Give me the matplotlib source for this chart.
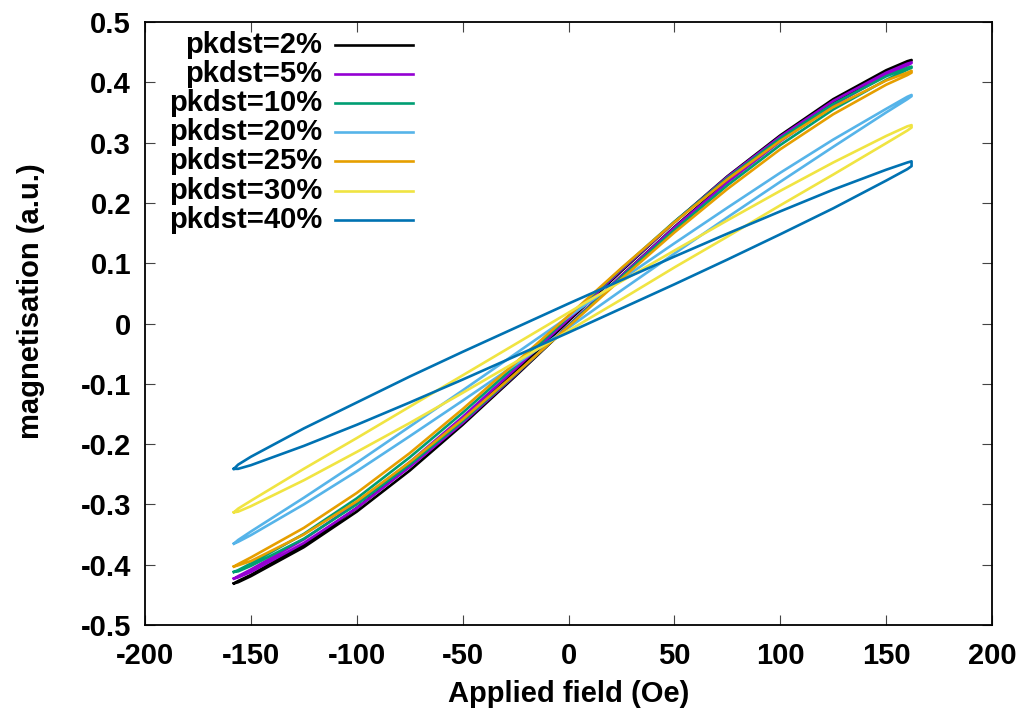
import matplotlib
matplotlib.use("Agg")
import matplotlib.pyplot as plt
import numpy as np

# === DONNÉES ===
# champ appliqué (Oe), commun à toutes les boucles
field = [-158, -156, -150, -125, -100, -75, -50, -25, 0, 25, 50, 75, 100, 125, 150, 160, 162]

labels = ["pkdst=2%", "pkdst=5%", "pkdst=10%", "pkdst=20%",
          "pkdst=25%", "pkdst=30%", "pkdst=40%"]
colors = ["#000000", "#9400d3", "#009e73", "#56b4e9",
          "#e69f00", "#f0e442", "#0072b2"]

# branche descendante (champ de +162 vers -158) -> valeurs hautes
up_2 = [-0.431, -0.427, -0.417, -0.367, -0.306, -0.236, -0.160, -0.079, 0.004, 0.087, 0.168, 0.244, 0.312, 0.372, 0.420, 0.435, 0.437]
up_5 = [-0.423, -0.419, -0.408, -0.358, -0.298, -0.230, -0.155, -0.075, 0.007, 0.089, 0.168, 0.243, 0.310, 0.369, 0.416, 0.431, 0.433]
up_10 = [-0.412, -0.409, -0.398, -0.349, -0.290, -0.222, -0.148, -0.070, 0.011, 0.091, 0.169, 0.241, 0.307, 0.364, 0.410, 0.424, 0.426]
up_20 = [-0.365, -0.359, -0.345, -0.289, -0.231, -0.171, -0.111, -0.050, 0.011, 0.073, 0.133, 0.192, 0.250, 0.305, 0.356, 0.376, 0.379]
up_25 = [-0.403, -0.399, -0.388, -0.339, -0.281, -0.215, -0.142, -0.065, 0.013, 0.092, 0.168, 0.239, 0.303, 0.359, 0.403, 0.416, 0.419]
up_30 = [-0.313, -0.307, -0.294, -0.241, -0.190, -0.138, -0.086, -0.034, 0.018, 0.070, 0.121, 0.171, 0.220, 0.267, 0.311, 0.327, 0.329]
up_40 = [-0.241, -0.234, -0.221, -0.174, -0.131, -0.088, -0.047, -0.007, 0.033, 0.072, 0.111, 0.149, 0.186, 0.222, 0.255, 0.267, 0.269]

# branche montante (champ de -158 vers +162) -> valeurs basses
lo_2 = [-0.431, -0.429, -0.419, -0.371, -0.312, -0.244, -0.168, -0.087, -0.004, 0.079, 0.160, 0.236, 0.306, 0.366, 0.416, 0.433, 0.436]
lo_5 = [-0.423, -0.421, -0.412, -0.364, -0.306, -0.238, -0.165, -0.085, -0.003, 0.079, 0.159, 0.234, 0.302, 0.362, 0.412, 0.428, 0.432]
lo_10 = [-0.412, -0.411, -0.402, -0.357, -0.300, -0.234, -0.162, -0.084, -0.004, 0.077, 0.155, 0.229, 0.296, 0.355, 0.404, 0.421, 0.424]
lo_20 = [-0.365, -0.362, -0.351, -0.300, -0.245, -0.187, -0.128, -0.068, -0.007, 0.055, 0.116, 0.176, 0.235, 0.293, 0.350, 0.372, 0.377]
lo_25 = [-0.403, -0.401, -0.394, -0.350, -0.295, -0.230, -0.159, -0.083, -0.005, 0.074, 0.151, 0.223, 0.289, 0.347, 0.396, 0.412, 0.416]
lo_30 = [-0.313, -0.312, -0.303, -0.260, -0.213, -0.165, -0.115, -0.064, -0.012, 0.040, 0.093, 0.144, 0.196, 0.247, 0.299, 0.320, 0.325]
lo_40 = [-0.241, -0.241, -0.235, -0.203, -0.168, -0.131, -0.093, -0.054, -0.015, 0.025, 0.065, 0.106, 0.148, 0.191, 0.237, 0.256, 0.261]

upper = [up_2, up_5, up_10, up_20, up_25, up_30, up_40]
lower = [lo_2, lo_5, lo_10, lo_20, lo_25, lo_30, lo_40]

xticks = [-200, -150, -100, -50, 0, 50, 100, 150, 200]
yticks = [-0.5, -0.4, -0.3, -0.2, -0.1, 0, 0.1, 0.2, 0.3, 0.4, 0.5]

# === STYLE ===
plt.rcParams['font.family'] = ['Liberation Sans', 'DejaVu Sans']
plt.rcParams['font.weight'] = 'bold'
plt.rcParams['axes.unicode_minus'] = False
FS = 21

fig = plt.figure(figsize=(10.26, 7.17), dpi=100)
ax = fig.add_axes([0.1413, 0.1283, 0.8256, 0.8410])

for up, lo, col in zip(upper, lower, colors):
    # boucle fermée : montée puis descente
    x = list(field) + list(field[::-1])
    y = list(lo) + list(up[::-1])
    ax.plot(x, y, color=col, lw=1.9, solid_joinstyle='round')

ax.set_xlim(-200, 200)
ax.set_ylim(-0.5, 0.5)
ax.set_xticks(xticks)
ax.set_yticks(yticks)
ax.set_xticklabels([f"{v:g}" for v in xticks])
ax.set_yticklabels([f"{v:g}" for v in yticks])
ax.tick_params(direction='in', top=True, right=True, length=7, width=0.8,
               labelsize=FS, color='#444444')
ax.tick_params(axis='x', pad=12)
ax.tick_params(axis='y', pad=10)
for sp in ax.spines.values():
    sp.set_linewidth(1.3)

ax.set_xlabel("Applied field (Oe)", fontsize=FS, fontweight='bold')
ax.set_ylabel("magnetisation (a.u.)", fontsize=FS, fontweight='bold')
ax.xaxis.set_label_coords(0.5, -0.092)
ax.yaxis.set_label_coords(-0.118, 0.537)

# légende façon gnuplot : texte aligné à droite puis échantillon de trait
for i, (lab, col) in enumerate(zip(labels, colors)):
    yy = 0.962 - i * 0.0483
    ax.text(0.209, yy, lab, transform=ax.transAxes, ha='right', va='center',
            fontsize=FS, fontweight='bold')
    ax.plot([0.224, 0.316], [yy, yy], transform=ax.transAxes, color=col, lw=1.9)

fig.savefig("out.png", dpi=100)
